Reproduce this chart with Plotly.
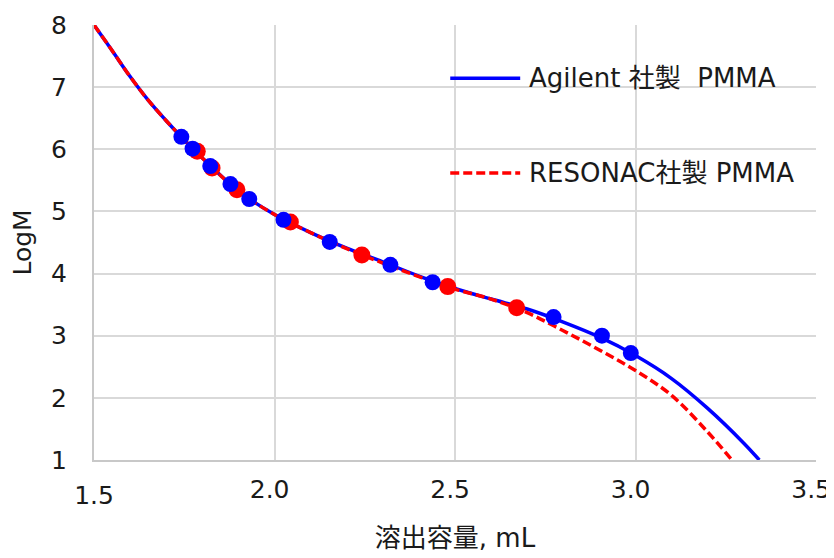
import plotly.graph_objects as go

# Calibration curves
agilent_curve_x = [1.50, 1.55, 1.60, 1.65, 1.70, 1.75, 1.80, 1.90, 2.00, 2.10, 2.20, 2.30, 2.40, 2.50, 2.60, 2.70, 2.80, 2.90, 3.00, 3.10, 3.20, 3.30, 3.343]
agilent_curve_y = [8.00, 7.59, 7.17, 6.79, 6.46, 6.15, 5.86, 5.33, 4.95, 4.66, 4.41, 4.19, 3.96, 3.76, 3.59, 3.43, 3.22, 2.98, 2.68, 2.31, 1.83, 1.27, 1.00]

resonac_curve_x = [1.50, 1.55, 1.60, 1.65, 1.70, 1.75, 1.80, 1.90, 2.00, 2.10, 2.20, 2.30, 2.40, 2.50, 2.60, 2.70, 2.80, 2.90, 3.00, 3.10, 3.20, 3.267]
resonac_curve_y = [8.00, 7.59, 7.17, 6.79, 6.46, 6.15, 5.86, 5.33, 4.95, 4.66, 4.40, 4.17, 3.95, 3.75, 3.59, 3.37, 3.08, 2.77, 2.44, 2.04, 1.45, 1.00]

# Standard points
agilent_pts_x = [1.742, 1.773, 1.822, 1.878, 1.930, 2.025, 2.153, 2.321, 2.438, 2.773, 2.907, 2.987]
agilent_pts_y = [6.20, 6.01, 5.73, 5.44, 5.20, 4.865, 4.51, 4.14, 3.86, 3.30, 3.00, 2.72]

resonac_pts_x = [1.786, 1.827, 1.896, 2.044, 2.242, 2.480, 2.671]
resonac_pts_y = [5.97, 5.70, 5.35, 4.83, 4.30, 3.79, 3.45]

x_ticks = [1.5, 2.0, 2.5, 3.0, 3.5]
x_tick_labels = ["1.5", "2.0", "2.5", "3.0", "3.5"]
y_ticks = [1, 2, 3, 4, 5, 6, 7, 8]

legend_names = ["Agilent 社製\u00a0\u00a0PMMA", "RESONAC社製 PMMA"]

BLUE = "#0000FF"
RED = "#FF0000"
FONT = "DejaVu Sans, Noto Sans CJK JP, sans-serif"
X_RANGE = [1.5, 3.5]
LABEL_SHIFT = 0.0135  # labels sit ~5px left of their gridlines, as in the reference

fig = go.Figure()
fig.add_trace(go.Scatter(x=agilent_curve_x, y=agilent_curve_y, mode="lines",
                         line=dict(color=BLUE, width=3.5, shape="spline"), name=legend_names[0]))
fig.add_trace(go.Scatter(x=resonac_curve_x, y=resonac_curve_y, mode="lines",
                         line=dict(color=RED, width=3.5, dash="9px,4px", shape="spline"), name=legend_names[1]))
fig.add_trace(go.Scatter(x=resonac_pts_x, y=resonac_pts_y, mode="markers",
                         marker=dict(color=RED, size=17, line=dict(width=0)), showlegend=False))
fig.add_trace(go.Scatter(x=agilent_pts_x, y=agilent_pts_y, mode="markers",
                         marker=dict(color=BLUE, size=16, line=dict(width=0)), showlegend=False))
# empty trace that carries the (slightly shifted) tick-label axis
fig.add_trace(go.Scatter(x=[], y=[], xaxis="x2", showlegend=False, hoverinfo="skip"))

# Manual legend
legend_y = [0.8776, 0.6595]
for i, (col, dash) in enumerate([(BLUE, "solid"), (RED, "9px,4px")]):
    fig.add_shape(type="line", xref="paper", yref="paper", x0=0.4934, x1=0.5903,
                  y0=legend_y[i], y1=legend_y[i], line=dict(color=col, width=3.5, dash=dash))
    fig.add_annotation(xref="paper", yref="paper", x=0.5996, y=legend_y[i], text=legend_names[i],
                       showarrow=False, xanchor="left", yanchor="middle",
                       font=dict(size=26, color="#1a1a1a", family=FONT))

# The page body has an 8px margin, so the figure is sized to fit the 834x558 window
fig.update_layout(
    width=826, height=550,
    margin=dict(l=85.5, r=18, t=17, b=97.5),
    paper_bgcolor="white", plot_bgcolor="white",
    showlegend=False,
    font=dict(family=FONT, size=25, color="#1a1a1a"),
    xaxis=dict(range=X_RANGE, tickvals=x_ticks,
               ticktext=[x_tick_labels[0]] + [""] * (len(x_tick_labels) - 1),
               showgrid=True, gridcolor="#d9d9d9", gridwidth=1.5,
               showline=True, linecolor="#c8c8c8", linewidth=2,
               zeroline=False, ticks="", ticklabelstandoff=12, automargin=False),
    xaxis2=dict(overlaying="x", anchor="y", side="bottom",
                range=[X_RANGE[0] + LABEL_SHIFT, X_RANGE[1] + LABEL_SHIFT],
                tickvals=x_ticks[1:], ticktext=x_tick_labels[1:],
                showgrid=False, showline=False, zeroline=False, ticks="",
                ticklabelstandoff=12, automargin=False, ticklabeloverflow="allow",
                title=dict(text="溶出容量, mL", font=dict(size=26), standoff=25)),
    yaxis=dict(range=[1, 8], tickvals=y_ticks,
               showgrid=True, gridcolor="#d9d9d9", gridwidth=1.5,
               showline=True, linecolor="#c8c8c8", linewidth=2,
               zeroline=False, ticks="", ticklabelstandoff=20, automargin=False,
               ticklabeloverflow="allow",
               title=dict(text="LogM", font=dict(size=25), standoff=12)),
)

fig.write_html("out.html")
